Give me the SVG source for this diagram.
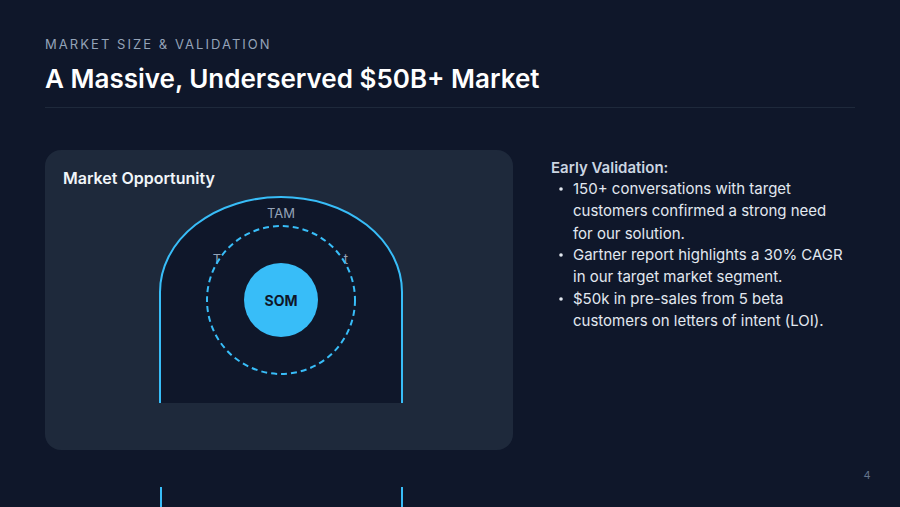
<svg xmlns="http://www.w3.org/2000/svg" width="900" height="507" viewBox="0 0 900 507">
<style>
.f{font-family:Inter,"Liberation Sans",sans-serif}
.kick{font-size:13px;letter-spacing:2.05px;fill:#94a3b8}
.h1{font-size:26px;font-weight:600;fill:#ffffff}
.ct{font-size:16px;font-weight:600;fill:#f1f5f9}
.lbl{font-size:13px;fill:#94a3b8}
.sm{font-size:13px;fill:#94a3b8}
.b{font-size:15px;fill:#e2e8f0}
.bh{font-size:15px;font-weight:600;fill:#cbd5e1}
.arch{fill:none;stroke:#38bdf8;stroke-width:2}
</style>
<rect width="900" height="507" fill="#0f172a"/>
<g id="header">
<text class="f kick" x="45" y="49">MARKET SIZE &amp; VALIDATION</text>
<text class="f h1" x="45" y="88">A Massive, Underserved $50B+ Market</text>
<line x1="45" y1="107.5" x2="855" y2="107.5" stroke="#1e293b" stroke-width="1"/>
</g>
<g id="card">
<rect x="45" y="150" width="468" height="300" rx="16" fill="#1e293b"/>
<text class="f ct" x="63" y="184">Market Opportunity</text>
</g>
<g id="tam">
<path d="M160,403 V292 A121,95 0 0 1 402,292 V403 Z" fill="#0f172a"/>
<path class="arch" d="M160,403 V292 A121,95 0 0 1 402,292 V403"/>
<text class="f lbl" x="281" y="218" text-anchor="middle">TAM</text>
</g>
<g id="sam">
<text class="f sm" x="217" y="264" text-anchor="middle">T</text>
<text class="f sm" x="346" y="264" text-anchor="middle">t</text>
<circle cx="281" cy="300" r="74" fill="none" stroke="#38bdf8" stroke-width="2" stroke-dasharray="6 4"/>
</g>
<g id="som">
<circle cx="281" cy="300" r="37" fill="#38bdf8"/>
<text class="f" x="281" y="306" text-anchor="middle" font-size="14" font-weight="700" fill="#0f172a">SOM</text>
</g>
<g id="validation">
<text class="f bh" x="551" y="173">Early Validation:</text>
<g class="f b">
<circle cx="561" cy="189" r="1.8" fill="#e2e8f0"/>
<text x="573" y="194">150+ conversations with target</text>
<text x="573" y="216">customers confirmed a strong need</text>
<text x="573" y="239">for our solution.</text>
<circle cx="561" cy="255" r="1.8" fill="#e2e8f0"/>
<text x="573" y="260">Gartner report highlights a 30% CAGR</text>
<text x="573" y="282">in our target market segment.</text>
<circle cx="561" cy="299" r="1.8" fill="#e2e8f0"/>
<text x="573" y="304">$50k in pre-sales from 5 beta</text>
<text x="573" y="326">customers on letters of intent (LOI).</text>
</g>
</g>
<g id="lower">
<line x1="161" y1="487" x2="161" y2="507" stroke="#38bdf8" stroke-width="2"/>
<line x1="402" y1="487" x2="402" y2="507" stroke="#38bdf8" stroke-width="2"/>
</g>
<text class="f" x="867" y="479" text-anchor="middle" font-size="11" fill="#64748b">4</text>
</svg>
